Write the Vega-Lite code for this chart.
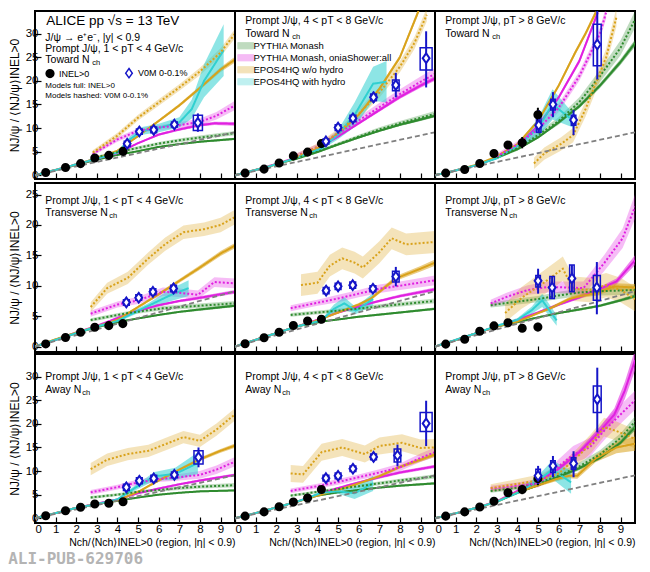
{
  "$schema": "https://vega.github.io/schema/vega-lite/v6.json",
  "padding": {"left": 8, "top": 9, "right": 6, "bottom": 0},
  "background": "white",
  "config": {
    "font": "Liberation Sans, Arial, sans-serif",
    "view": {"stroke": "black", "strokeWidth": 2},
    "axis": {"grid": false, "domain": false, "tickColor": "black", "tickSize": -6, "tickWidth": 1.2, "labelPadding": 3, "labelFontSize": 11.5, "labelColor": "black", "titleFontSize": 12, "titleFontWeight": "normal", "titleColor": "black"},
    "text": {"align": "left", "baseline": "middle", "color": "black"}
  },
  "title": {"text": "ALI-PUB-629706", "orient": "bottom", "anchor": "start", "frame": "bounds", "font": "DejaVu Sans Mono", "fontSize": 16, "fontWeight": "bold", "color": "#b4b4b4", "offset": 3},
  "spacing": 0,
  "resolve": {"legend": {"shape": "independent", "fill": "independent", "stroke": "independent"}},
  "datasets": {
    "d": [
      {"k":"m","r":"T","c":"1","m":"PM","s":"I","x":0,"y":0,"e":0.05},{"k":"m","r":"T","c":"1","m":"PM","s":"I","x":1,"y":1.1,"e":0.05},{"k":"m","r":"T","c":"1","m":"PM","s":"I","x":2,"y":2.2,"e":0.08},{"k":"m","r":"T","c":"1","m":"PM","s":"I","x":3,"y":3.3,"e":0.1},{"k":"m","r":"T","c":"1","m":"PM","s":"I","x":4,"y":4.3,"e":0.12},{"k":"m","r":"T","c":"1","m":"PM","s":"I","x":5,"y":5.1,"e":0.15},{"k":"m","r":"T","c":"1","m":"PM","s":"I","x":6,"y":6,"e":0.15},{"k":"m","r":"T","c":"1","m":"PM","s":"I","x":7,"y":6.6,"e":0.2},{"k":"m","r":"T","c":"1","m":"PM","s":"I","x":8,"y":7.1,"e":0.2},{"k":"m","r":"T","c":"1","m":"PM","s":"I","x":9.7,"y":7.7,"e":0.25},
      {"k":"m","r":"T","c":"1","m":"PO","s":"I","x":0,"y":0,"e":0.05},{"k":"m","r":"T","c":"1","m":"PO","s":"I","x":1,"y":1.1,"e":0.05},{"k":"m","r":"T","c":"1","m":"PO","s":"I","x":2,"y":2.3,"e":0.08},{"k":"m","r":"T","c":"1","m":"PO","s":"I","x":3,"y":3.5,"e":0.1},{"k":"m","r":"T","c":"1","m":"PO","s":"I","x":4,"y":4.7,"e":0.15},{"k":"m","r":"T","c":"1","m":"PO","s":"I","x":5,"y":6.8,"e":0.2},{"k":"m","r":"T","c":"1","m":"PO","s":"I","x":6,"y":8.6,"e":0.25},{"k":"m","r":"T","c":"1","m":"PO","s":"I","x":7,"y":9.7,"e":0.3},{"k":"m","r":"T","c":"1","m":"PO","s":"I","x":8,"y":10.6,"e":0.3},{"k":"m","r":"T","c":"1","m":"PO","s":"I","x":8.7,"y":11,"e":0.35},{"k":"m","r":"T","c":"1","m":"PO","s":"I","x":9.7,"y":10.9,"e":0.4},
      {"k":"m","r":"T","c":"1","m":"EW","s":"I","x":0,"y":0,"e":0.05},{"k":"m","r":"T","c":"1","m":"EW","s":"I","x":1,"y":1.1,"e":0.05},{"k":"m","r":"T","c":"1","m":"EW","s":"I","x":2,"y":2.3,"e":0.08},{"k":"m","r":"T","c":"1","m":"EW","s":"I","x":3,"y":3.6,"e":0.1},{"k":"m","r":"T","c":"1","m":"EW","s":"I","x":4,"y":5.2,"e":0.15},{"k":"m","r":"T","c":"1","m":"EW","s":"I","x":5,"y":8.3,"e":0.2},{"k":"m","r":"T","c":"1","m":"EW","s":"I","x":6,"y":11.5,"e":0.3},{"k":"m","r":"T","c":"1","m":"EW","s":"I","x":7,"y":14.8,"e":0.35},{"k":"m","r":"T","c":"1","m":"EW","s":"I","x":8,"y":18.5,"e":0.4},{"k":"m","r":"T","c":"1","m":"EW","s":"I","x":9,"y":22.4,"e":0.5},{"k":"m","r":"T","c":"1","m":"EW","s":"I","x":9.7,"y":24.5,"e":0.6},
      {"k":"m","r":"T","c":"1","m":"EH","s":"I","x":0,"y":0,"e":0.05},{"k":"m","r":"T","c":"1","m":"EH","s":"I","x":1,"y":1.1,"e":0.05},{"k":"m","r":"T","c":"1","m":"EH","s":"I","x":2,"y":2.3,"e":0.1},{"k":"m","r":"T","c":"1","m":"EH","s":"I","x":3,"y":3.5,"e":0.15},{"k":"m","r":"T","c":"1","m":"EH","s":"I","x":4,"y":4.8,"e":0.3},{"k":"m","r":"T","c":"1","m":"EH","s":"I","x":4.6,"y":7.6,"e":0.6},{"k":"m","r":"T","c":"1","m":"EH","s":"I","x":5.2,"y":9.4,"e":0.8},{"k":"m","r":"T","c":"1","m":"EH","s":"I","x":6,"y":10,"e":0.9},{"k":"m","r":"T","c":"1","m":"EH","s":"I","x":7,"y":11.2,"e":1.1},{"k":"m","r":"T","c":"1","m":"EH","s":"I","x":7.6,"y":14,"e":2},{"k":"m","r":"T","c":"1","m":"EH","s":"I","x":8.2,"y":20,"e":3.5},{"k":"m","r":"T","c":"1","m":"EH","s":"I","x":9.15,"y":26.5,"e":5.5},
      {"k":"m","r":"T","c":"1","m":"PM","s":"V","x":2.8,"y":3.6,"e":0.3},{"k":"m","r":"T","c":"1","m":"PM","s":"V","x":4,"y":4.9,"e":0.3},{"k":"m","r":"T","c":"1","m":"PM","s":"V","x":5,"y":5.8,"e":0.35},{"k":"m","r":"T","c":"1","m":"PM","s":"V","x":6,"y":6.7,"e":0.35},{"k":"m","r":"T","c":"1","m":"PM","s":"V","x":7,"y":7.4,"e":0.4},{"k":"m","r":"T","c":"1","m":"PM","s":"V","x":8,"y":8,"e":0.4},{"k":"m","r":"T","c":"1","m":"PM","s":"V","x":9.7,"y":8.9,"e":0.45},
      {"k":"m","r":"T","c":"1","m":"PO","s":"V","x":2.8,"y":4.5,"e":0.4},{"k":"m","r":"T","c":"1","m":"PO","s":"V","x":4,"y":7.6,"e":0.5},{"k":"m","r":"T","c":"1","m":"PO","s":"V","x":5,"y":9.4,"e":0.5},{"k":"m","r":"T","c":"1","m":"PO","s":"V","x":6,"y":10.1,"e":0.5},{"k":"m","r":"T","c":"1","m":"PO","s":"V","x":7,"y":10.6,"e":0.6},{"k":"m","r":"T","c":"1","m":"PO","s":"V","x":8,"y":11.3,"e":0.7},{"k":"m","r":"T","c":"1","m":"PO","s":"V","x":8.8,"y":12.6,"e":0.8},{"k":"m","r":"T","c":"1","m":"PO","s":"V","x":9.7,"y":14.8,"e":1},
      {"k":"m","r":"T","c":"1","m":"EW","s":"V","x":2.8,"y":4.8,"e":0.5},{"k":"m","r":"T","c":"1","m":"EW","s":"V","x":4,"y":8.4,"e":0.6},{"k":"m","r":"T","c":"1","m":"EW","s":"V","x":5,"y":12.2,"e":0.6},{"k":"m","r":"T","c":"1","m":"EW","s":"V","x":6,"y":15.4,"e":0.7},{"k":"m","r":"T","c":"1","m":"EW","s":"V","x":7,"y":18.6,"e":0.7},{"k":"m","r":"T","c":"1","m":"EW","s":"V","x":8,"y":22,"e":0.8},{"k":"m","r":"T","c":"1","m":"EW","s":"V","x":9,"y":26,"e":0.9},{"k":"m","r":"T","c":"1","m":"EW","s":"V","x":9.7,"y":30,"e":1},

      {"k":"m","r":"T","c":"2","m":"PM","s":"I","x":0,"y":0,"e":0.05},{"k":"m","r":"T","c":"2","m":"PM","s":"I","x":1,"y":1.1,"e":0.05},{"k":"m","r":"T","c":"2","m":"PM","s":"I","x":2,"y":2.3,"e":0.08},{"k":"m","r":"T","c":"2","m":"PM","s":"I","x":3,"y":3.5,"e":0.1},{"k":"m","r":"T","c":"2","m":"PM","s":"I","x":4,"y":4.9,"e":0.12},{"k":"m","r":"T","c":"2","m":"PM","s":"I","x":5,"y":6.5,"e":0.15},{"k":"m","r":"T","c":"2","m":"PM","s":"I","x":6,"y":8,"e":0.2},{"k":"m","r":"T","c":"2","m":"PM","s":"I","x":7,"y":9.4,"e":0.2},{"k":"m","r":"T","c":"2","m":"PM","s":"I","x":8,"y":10.7,"e":0.25},{"k":"m","r":"T","c":"2","m":"PM","s":"I","x":9,"y":11.8,"e":0.3},{"k":"m","r":"T","c":"2","m":"PM","s":"I","x":9.7,"y":12.6,"e":0.3},
      {"k":"m","r":"T","c":"2","m":"PO","s":"I","x":0,"y":0,"e":0.05},{"k":"m","r":"T","c":"2","m":"PO","s":"I","x":1,"y":1.1,"e":0.05},{"k":"m","r":"T","c":"2","m":"PO","s":"I","x":2,"y":2.4,"e":0.08},{"k":"m","r":"T","c":"2","m":"PO","s":"I","x":3,"y":3.8,"e":0.1},{"k":"m","r":"T","c":"2","m":"PO","s":"I","x":4,"y":5.6,"e":0.15},{"k":"m","r":"T","c":"2","m":"PO","s":"I","x":5,"y":8.2,"e":0.2},{"k":"m","r":"T","c":"2","m":"PO","s":"I","x":6,"y":11,"e":0.3},{"k":"m","r":"T","c":"2","m":"PO","s":"I","x":7,"y":13.8,"e":0.35},{"k":"m","r":"T","c":"2","m":"PO","s":"I","x":8,"y":16.6,"e":0.4},{"k":"m","r":"T","c":"2","m":"PO","s":"I","x":9,"y":19,"e":0.45},{"k":"m","r":"T","c":"2","m":"PO","s":"I","x":9.7,"y":20.5,"e":0.5},
      {"k":"m","r":"T","c":"2","m":"EW","s":"I","x":0,"y":0,"e":0.05},{"k":"m","r":"T","c":"2","m":"EW","s":"I","x":1,"y":1.1,"e":0.05},{"k":"m","r":"T","c":"2","m":"EW","s":"I","x":2,"y":2.3,"e":0.08},{"k":"m","r":"T","c":"2","m":"EW","s":"I","x":3,"y":3.7,"e":0.1},{"k":"m","r":"T","c":"2","m":"EW","s":"I","x":4,"y":5.7,"e":0.15},{"k":"m","r":"T","c":"2","m":"EW","s":"I","x":5,"y":8.8,"e":0.2},{"k":"m","r":"T","c":"2","m":"EW","s":"I","x":6,"y":12.8,"e":0.3},{"k":"m","r":"T","c":"2","m":"EW","s":"I","x":7,"y":18.3,"e":0.4},{"k":"m","r":"T","c":"2","m":"EW","s":"I","x":8,"y":25,"e":0.5},{"k":"m","r":"T","c":"2","m":"EW","s":"I","x":8.9,"y":34.8,"e":0.6},
      {"k":"m","r":"T","c":"2","m":"EH","s":"I","x":0,"y":0,"e":0.05},{"k":"m","r":"T","c":"2","m":"EH","s":"I","x":1,"y":1.1,"e":0.05},{"k":"m","r":"T","c":"2","m":"EH","s":"I","x":2,"y":2.3,"e":0.1},{"k":"m","r":"T","c":"2","m":"EH","s":"I","x":3,"y":3.7,"e":0.15},{"k":"m","r":"T","c":"2","m":"EH","s":"I","x":4.2,"y":5.7,"e":0.3},{"k":"m","r":"T","c":"2","m":"EH","s":"I","x":5,"y":8.6,"e":1},{"k":"m","r":"T","c":"2","m":"EH","s":"I","x":5.8,"y":12.8,"e":2.6},{"k":"m","r":"T","c":"2","m":"EH","s":"I","x":6.7,"y":19.4,"e":3.6},{"k":"m","r":"T","c":"2","m":"EH","s":"I","x":7.35,"y":19.8,"e":4.4},
      {"k":"m","r":"T","c":"2","m":"PM","s":"V","x":2.8,"y":3.4,"e":0.3},{"k":"m","r":"T","c":"2","m":"PM","s":"V","x":4,"y":5,"e":0.3},{"k":"m","r":"T","c":"2","m":"PM","s":"V","x":5,"y":6.6,"e":0.35},{"k":"m","r":"T","c":"2","m":"PM","s":"V","x":6,"y":8.2,"e":0.4},{"k":"m","r":"T","c":"2","m":"PM","s":"V","x":7,"y":9.7,"e":0.45},{"k":"m","r":"T","c":"2","m":"PM","s":"V","x":8,"y":11,"e":0.5},{"k":"m","r":"T","c":"2","m":"PM","s":"V","x":9.7,"y":13,"e":0.6},
      {"k":"m","r":"T","c":"2","m":"PO","s":"V","x":2.8,"y":3.8,"e":0.5},{"k":"m","r":"T","c":"2","m":"PO","s":"V","x":4,"y":6,"e":0.6},{"k":"m","r":"T","c":"2","m":"PO","s":"V","x":5,"y":8.8,"e":0.7},{"k":"m","r":"T","c":"2","m":"PO","s":"V","x":6,"y":11.6,"e":0.8},{"k":"m","r":"T","c":"2","m":"PO","s":"V","x":7,"y":14.4,"e":0.9},{"k":"m","r":"T","c":"2","m":"PO","s":"V","x":8,"y":17.2,"e":1},{"k":"m","r":"T","c":"2","m":"PO","s":"V","x":9,"y":19.8,"e":1.1},{"k":"m","r":"T","c":"2","m":"PO","s":"V","x":9.7,"y":21.5,"e":1.2},
      {"k":"m","r":"T","c":"2","m":"EW","s":"V","x":3,"y":4,"e":0.6},{"k":"m","r":"T","c":"2","m":"EW","s":"V","x":4,"y":6,"e":0.7},{"k":"m","r":"T","c":"2","m":"EW","s":"V","x":5,"y":9,"e":0.8},{"k":"m","r":"T","c":"2","m":"EW","s":"V","x":6,"y":13,"e":1},{"k":"m","r":"T","c":"2","m":"EW","s":"V","x":7,"y":17.5,"e":1.1},{"k":"m","r":"T","c":"2","m":"EW","s":"V","x":8,"y":23,"e":1.2},{"k":"m","r":"T","c":"2","m":"EW","s":"V","x":8.7,"y":28,"e":1.3},{"k":"m","r":"T","c":"2","m":"EW","s":"V","x":9.3,"y":34,"e":1.4},

      {"k":"m","r":"T","c":"3","m":"PM","s":"I","x":0,"y":0,"e":0.05},{"k":"m","r":"T","c":"3","m":"PM","s":"I","x":1,"y":1,"e":0.05},{"k":"m","r":"T","c":"3","m":"PM","s":"I","x":2,"y":2.1,"e":0.08},{"k":"m","r":"T","c":"3","m":"PM","s":"I","x":3,"y":3.7,"e":0.1},{"k":"m","r":"T","c":"3","m":"PM","s":"I","x":4,"y":5.5,"e":0.15},{"k":"m","r":"T","c":"3","m":"PM","s":"I","x":5,"y":8,"e":0.2},{"k":"m","r":"T","c":"3","m":"PM","s":"I","x":6,"y":11.2,"e":0.3},{"k":"m","r":"T","c":"3","m":"PM","s":"I","x":7,"y":14.6,"e":0.4},{"k":"m","r":"T","c":"3","m":"PM","s":"I","x":8,"y":19,"e":0.5},{"k":"m","r":"T","c":"3","m":"PM","s":"I","x":9,"y":24,"e":0.6},{"k":"m","r":"T","c":"3","m":"PM","s":"I","x":9.7,"y":28,"e":0.7},
      {"k":"m","r":"T","c":"3","m":"PO","s":"I","x":0,"y":0,"e":0.05},{"k":"m","r":"T","c":"3","m":"PO","s":"I","x":1,"y":1,"e":0.05},{"k":"m","r":"T","c":"3","m":"PO","s":"I","x":2,"y":2.1,"e":0.08},{"k":"m","r":"T","c":"3","m":"PO","s":"I","x":3,"y":3.8,"e":0.1},{"k":"m","r":"T","c":"3","m":"PO","s":"I","x":4,"y":6.2,"e":0.2},{"k":"m","r":"T","c":"3","m":"PO","s":"I","x":5,"y":10.5,"e":0.3},{"k":"m","r":"T","c":"3","m":"PO","s":"I","x":6,"y":16.5,"e":0.4},{"k":"m","r":"T","c":"3","m":"PO","s":"I","x":7,"y":24.2,"e":0.5},{"k":"m","r":"T","c":"3","m":"PO","s":"I","x":7.9,"y":34.5,"e":0.6},
      {"k":"m","r":"T","c":"3","m":"EW","s":"I","x":0,"y":0,"e":0.05},{"k":"m","r":"T","c":"3","m":"EW","s":"I","x":1,"y":1,"e":0.05},{"k":"m","r":"T","c":"3","m":"EW","s":"I","x":2,"y":2.2,"e":0.08},{"k":"m","r":"T","c":"3","m":"EW","s":"I","x":3,"y":4,"e":0.1},{"k":"m","r":"T","c":"3","m":"EW","s":"I","x":4,"y":6.6,"e":0.2},{"k":"m","r":"T","c":"3","m":"EW","s":"I","x":5,"y":11.5,"e":0.3},{"k":"m","r":"T","c":"3","m":"EW","s":"I","x":6,"y":19,"e":0.4},{"k":"m","r":"T","c":"3","m":"EW","s":"I","x":6.8,"y":26,"e":0.5},{"k":"m","r":"T","c":"3","m":"EW","s":"I","x":7.3,"y":30,"e":0.5},{"k":"m","r":"T","c":"3","m":"EW","s":"I","x":7.8,"y":34.5,"e":0.6},
      {"k":"m","r":"T","c":"3","m":"EH","s":"I","x":0,"y":0,"e":0.05},{"k":"m","r":"T","c":"3","m":"EH","s":"I","x":1,"y":1,"e":0.05},{"k":"m","r":"T","c":"3","m":"EH","s":"I","x":2,"y":2.1,"e":0.1},{"k":"m","r":"T","c":"3","m":"EH","s":"I","x":3,"y":3.6,"e":0.2},{"k":"m","r":"T","c":"3","m":"EH","s":"I","x":4,"y":6.2,"e":0.4},{"k":"m","r":"T","c":"3","m":"EH","s":"I","x":5,"y":10,"e":2},{"k":"m","r":"T","c":"3","m":"EH","s":"I","x":5.7,"y":15,"e":3.2},{"k":"m","r":"T","c":"3","m":"EH","s":"I","x":6.7,"y":11.6,"e":1.5},
      {"k":"m","r":"T","c":"3","m":"PM","s":"V","x":3,"y":3.8,"e":0.4},{"k":"m","r":"T","c":"3","m":"PM","s":"V","x":4,"y":5.7,"e":0.5},{"k":"m","r":"T","c":"3","m":"PM","s":"V","x":5,"y":8.5,"e":0.6},{"k":"m","r":"T","c":"3","m":"PM","s":"V","x":6,"y":11.5,"e":0.8},{"k":"m","r":"T","c":"3","m":"PM","s":"V","x":7,"y":15.5,"e":1},{"k":"m","r":"T","c":"3","m":"PM","s":"V","x":8,"y":21,"e":1.3},{"k":"m","r":"T","c":"3","m":"PM","s":"V","x":9,"y":27,"e":1.6},{"k":"m","r":"T","c":"3","m":"PM","s":"V","x":9.7,"y":33,"e":1.8},
      {"k":"m","r":"T","c":"3","m":"PO","s":"V","x":3,"y":4,"e":0.6},{"k":"m","r":"T","c":"3","m":"PO","s":"V","x":4,"y":6.5,"e":0.7},{"k":"m","r":"T","c":"3","m":"PO","s":"V","x":5,"y":9.8,"e":0.8},{"k":"m","r":"T","c":"3","m":"PO","s":"V","x":6,"y":14.3,"e":0.9},{"k":"m","r":"T","c":"3","m":"PO","s":"V","x":7,"y":21,"e":1},{"k":"m","r":"T","c":"3","m":"PO","s":"V","x":8,"y":30,"e":1.2},{"k":"m","r":"T","c":"3","m":"PO","s":"V","x":8.3,"y":34.5,"e":1.3},
      {"k":"m","r":"T","c":"3","m":"EW","s":"V","x":4.8,"y":2.5,"e":1.2},{"k":"m","r":"T","c":"3","m":"EW","s":"V","x":5.3,"y":4.6,"e":1.3},{"k":"m","r":"T","c":"3","m":"EW","s":"V","x":6.1,"y":6.6,"e":1.4},{"k":"m","r":"T","c":"3","m":"EW","s":"V","x":6.7,"y":8.5,"e":1.5},{"k":"m","r":"T","c":"3","m":"EW","s":"V","x":7.3,"y":14,"e":1.6},{"k":"m","r":"T","c":"3","m":"EW","s":"V","x":7.8,"y":19.5,"e":1.7},{"k":"m","r":"T","c":"3","m":"EW","s":"V","x":8.3,"y":25,"e":1.8},{"k":"m","r":"T","c":"3","m":"EW","s":"V","x":8.8,"y":33.5,"e":2},

      {"k":"m","r":"S","c":"1","m":"PM","s":"I","x":0,"y":0,"e":0.05},{"k":"m","r":"S","c":"1","m":"PM","s":"I","x":1,"y":1.1,"e":0.05},{"k":"m","r":"S","c":"1","m":"PM","s":"I","x":2,"y":2.2,"e":0.08},{"k":"m","r":"S","c":"1","m":"PM","s":"I","x":3,"y":3.2,"e":0.1},{"k":"m","r":"S","c":"1","m":"PM","s":"I","x":4,"y":4,"e":0.1},{"k":"m","r":"S","c":"1","m":"PM","s":"I","x":4.55,"y":4.36,"e":0.12},{"k":"m","r":"S","c":"1","m":"PM","s":"I","x":6,"y":5.2,"e":0.15},{"k":"m","r":"S","c":"1","m":"PM","s":"I","x":7,"y":5.7,"e":0.15},{"k":"m","r":"S","c":"1","m":"PM","s":"I","x":8,"y":6.1,"e":0.2},{"k":"m","r":"S","c":"1","m":"PM","s":"I","x":9.7,"y":6.7,"e":0.2},
      {"k":"m","r":"S","c":"1","m":"PO","s":"I","x":0,"y":0,"e":0.05},{"k":"m","r":"S","c":"1","m":"PO","s":"I","x":1,"y":1.1,"e":0.05},{"k":"m","r":"S","c":"1","m":"PO","s":"I","x":2,"y":2.3,"e":0.08},{"k":"m","r":"S","c":"1","m":"PO","s":"I","x":3,"y":3.4,"e":0.1},{"k":"m","r":"S","c":"1","m":"PO","s":"I","x":4,"y":4.7,"e":0.15},{"k":"m","r":"S","c":"1","m":"PO","s":"I","x":5,"y":5.9,"e":0.15},{"k":"m","r":"S","c":"1","m":"PO","s":"I","x":6,"y":6.8,"e":0.2},{"k":"m","r":"S","c":"1","m":"PO","s":"I","x":7,"y":7.5,"e":0.2},{"k":"m","r":"S","c":"1","m":"PO","s":"I","x":7.8,"y":7.9,"e":0.25},{"k":"m","r":"S","c":"1","m":"PO","s":"I","x":9.7,"y":9,"e":0.3},
      {"k":"m","r":"S","c":"1","m":"EW","s":"I","x":0,"y":0,"e":0.05},{"k":"m","r":"S","c":"1","m":"EW","s":"I","x":1,"y":1.2,"e":0.05},{"k":"m","r":"S","c":"1","m":"EW","s":"I","x":2,"y":2.3,"e":0.08},{"k":"m","r":"S","c":"1","m":"EW","s":"I","x":3,"y":3.3,"e":0.1},{"k":"m","r":"S","c":"1","m":"EW","s":"I","x":4,"y":4.4,"e":0.15},{"k":"m","r":"S","c":"1","m":"EW","s":"I","x":5,"y":6.5,"e":0.2},{"k":"m","r":"S","c":"1","m":"EW","s":"I","x":6,"y":8.6,"e":0.25},{"k":"m","r":"S","c":"1","m":"EW","s":"I","x":7,"y":10.8,"e":0.3},{"k":"m","r":"S","c":"1","m":"EW","s":"I","x":8,"y":13,"e":0.35},{"k":"m","r":"S","c":"1","m":"EW","s":"I","x":9,"y":15.3,"e":0.4},{"k":"m","r":"S","c":"1","m":"EW","s":"I","x":9.7,"y":16.6,"e":0.45},
      {"k":"m","r":"S","c":"1","m":"EH","s":"I","x":0,"y":0,"e":0.05},{"k":"m","r":"S","c":"1","m":"EH","s":"I","x":1,"y":1.1,"e":0.05},{"k":"m","r":"S","c":"1","m":"EH","s":"I","x":2,"y":2.2,"e":0.08},{"k":"m","r":"S","c":"1","m":"EH","s":"I","x":3,"y":3.3,"e":0.1},{"k":"m","r":"S","c":"1","m":"EH","s":"I","x":4,"y":4.2,"e":0.2},{"k":"m","r":"S","c":"1","m":"EH","s":"I","x":5,"y":5.9,"e":0.4},{"k":"m","r":"S","c":"1","m":"EH","s":"I","x":5.5,"y":6.7,"e":0.4},{"k":"m","r":"S","c":"1","m":"EH","s":"I","x":6.6,"y":8.5,"e":1},{"k":"m","r":"S","c":"1","m":"EH","s":"I","x":7.45,"y":9.6,"e":1.3},
      {"k":"m","r":"S","c":"1","m":"PM","s":"V","x":2.7,"y":4.36,"e":0.3},{"k":"m","r":"S","c":"1","m":"PM","s":"V","x":4.5,"y":5.5,"e":0.3},{"k":"m","r":"S","c":"1","m":"PM","s":"V","x":6.2,"y":6.3,"e":0.35},{"k":"m","r":"S","c":"1","m":"PM","s":"V","x":9.7,"y":7.1,"e":0.4},
      {"k":"m","r":"S","c":"1","m":"PO","s":"V","x":2.7,"y":5.4,"e":0.5},{"k":"m","r":"S","c":"1","m":"PO","s":"V","x":4,"y":6.9,"e":0.5},{"k":"m","r":"S","c":"1","m":"PO","s":"V","x":5,"y":7.6,"e":0.6},{"k":"m","r":"S","c":"1","m":"PO","s":"V","x":6.2,"y":9,"e":0.7},{"k":"m","r":"S","c":"1","m":"PO","s":"V","x":7,"y":8.85,"e":0.7},{"k":"m","r":"S","c":"1","m":"PO","s":"V","x":7.9,"y":8.5,"e":0.7},{"k":"m","r":"S","c":"1","m":"PO","s":"V","x":8.7,"y":10.6,"e":0.8},{"k":"m","r":"S","c":"1","m":"PO","s":"V","x":9.7,"y":10.4,"e":0.8},
      {"k":"m","r":"S","c":"1","m":"EW","s":"V","x":2.7,"y":6.5,"e":0.8},{"k":"m","r":"S","c":"1","m":"EW","s":"V","x":3.5,"y":9.6,"e":0.9},{"k":"m","r":"S","c":"1","m":"EW","s":"V","x":4.5,"y":11.3,"e":1},{"k":"m","r":"S","c":"1","m":"EW","s":"V","x":5.5,"y":14.5,"e":1},{"k":"m","r":"S","c":"1","m":"EW","s":"V","x":6.3,"y":16.8,"e":1.1},{"k":"m","r":"S","c":"1","m":"EW","s":"V","x":7.2,"y":18.8,"e":1.1},{"k":"m","r":"S","c":"1","m":"EW","s":"V","x":8.2,"y":19.3,"e":1.1},{"k":"m","r":"S","c":"1","m":"EW","s":"V","x":9,"y":20,"e":1.2},{"k":"m","r":"S","c":"1","m":"EW","s":"V","x":9.7,"y":21.3,"e":1.2},

      {"k":"m","r":"S","c":"2","m":"PM","s":"I","x":0,"y":0,"e":0.05},{"k":"m","r":"S","c":"2","m":"PM","s":"I","x":1,"y":1.1,"e":0.05},{"k":"m","r":"S","c":"2","m":"PM","s":"I","x":2,"y":2.2,"e":0.08},{"k":"m","r":"S","c":"2","m":"PM","s":"I","x":3,"y":3.3,"e":0.1},{"k":"m","r":"S","c":"2","m":"PM","s":"I","x":4.2,"y":4.1,"e":0.1},{"k":"m","r":"S","c":"2","m":"PM","s":"I","x":6,"y":4.9,"e":0.15},{"k":"m","r":"S","c":"2","m":"PM","s":"I","x":8,"y":5.6,"e":0.15},{"k":"m","r":"S","c":"2","m":"PM","s":"I","x":9.7,"y":6.2,"e":0.2},
      {"k":"m","r":"S","c":"2","m":"PO","s":"I","x":0,"y":0,"e":0.05},{"k":"m","r":"S","c":"2","m":"PO","s":"I","x":1,"y":1.1,"e":0.05},{"k":"m","r":"S","c":"2","m":"PO","s":"I","x":2,"y":2.2,"e":0.08},{"k":"m","r":"S","c":"2","m":"PO","s":"I","x":3,"y":3.3,"e":0.1},{"k":"m","r":"S","c":"2","m":"PO","s":"I","x":4,"y":4.4,"e":0.12},{"k":"m","r":"S","c":"2","m":"PO","s":"I","x":5,"y":5.6,"e":0.15},{"k":"m","r":"S","c":"2","m":"PO","s":"I","x":6,"y":6.6,"e":0.2},{"k":"m","r":"S","c":"2","m":"PO","s":"I","x":7,"y":7.5,"e":0.2},{"k":"m","r":"S","c":"2","m":"PO","s":"I","x":8,"y":8.3,"e":0.25},{"k":"m","r":"S","c":"2","m":"PO","s":"I","x":9.7,"y":9.4,"e":0.3},
      {"k":"m","r":"S","c":"2","m":"EW","s":"I","x":0,"y":0,"e":0.05},{"k":"m","r":"S","c":"2","m":"EW","s":"I","x":1,"y":1.1,"e":0.05},{"k":"m","r":"S","c":"2","m":"EW","s":"I","x":2,"y":2.2,"e":0.08},{"k":"m","r":"S","c":"2","m":"EW","s":"I","x":3,"y":3.3,"e":0.1},{"k":"m","r":"S","c":"2","m":"EW","s":"I","x":4,"y":4.3,"e":0.15},{"k":"m","r":"S","c":"2","m":"EW","s":"I","x":5,"y":5.6,"e":0.2},{"k":"m","r":"S","c":"2","m":"EW","s":"I","x":6,"y":6.9,"e":0.25},{"k":"m","r":"S","c":"2","m":"EW","s":"I","x":6.6,"y":7.9,"e":0.3},{"k":"m","r":"S","c":"2","m":"EW","s":"I","x":7.8,"y":11.2,"e":0.4},{"k":"m","r":"S","c":"2","m":"EW","s":"I","x":9,"y":12.8,"e":0.45},{"k":"m","r":"S","c":"2","m":"EW","s":"I","x":9.7,"y":13.8,"e":0.5},
      {"k":"m","r":"S","c":"2","m":"EH","s":"I","x":0,"y":0,"e":0.05},{"k":"m","r":"S","c":"2","m":"EH","s":"I","x":1,"y":1.1,"e":0.05},{"k":"m","r":"S","c":"2","m":"EH","s":"I","x":2,"y":2.2,"e":0.08},{"k":"m","r":"S","c":"2","m":"EH","s":"I","x":3,"y":3.3,"e":0.1},{"k":"m","r":"S","c":"2","m":"EH","s":"I","x":4.2,"y":4.3,"e":0.2},{"k":"m","r":"S","c":"2","m":"EH","s":"I","x":4.8,"y":6.2,"e":0.7},{"k":"m","r":"S","c":"2","m":"EH","s":"I","x":5.3,"y":7.1,"e":1},{"k":"m","r":"S","c":"2","m":"EH","s":"I","x":5.85,"y":5.9,"e":0.6},{"k":"m","r":"S","c":"2","m":"EH","s":"I","x":6.7,"y":7.8,"e":1},
      {"k":"m","r":"S","c":"2","m":"PM","s":"V","x":2.7,"y":5.2,"e":0.3},{"k":"m","r":"S","c":"2","m":"PM","s":"V","x":5,"y":5.9,"e":0.3},{"k":"m","r":"S","c":"2","m":"PM","s":"V","x":7,"y":6.6,"e":0.35},{"k":"m","r":"S","c":"2","m":"PM","s":"V","x":9.7,"y":7.5,"e":0.4},
      {"k":"m","r":"S","c":"2","m":"PO","s":"V","x":2.7,"y":6.3,"e":0.5},{"k":"m","r":"S","c":"2","m":"PO","s":"V","x":4,"y":7.2,"e":0.5},{"k":"m","r":"S","c":"2","m":"PO","s":"V","x":5,"y":7.9,"e":0.6},{"k":"m","r":"S","c":"2","m":"PO","s":"V","x":6,"y":8.7,"e":0.6},{"k":"m","r":"S","c":"2","m":"PO","s":"V","x":7,"y":9.5,"e":0.7},{"k":"m","r":"S","c":"2","m":"PO","s":"V","x":8,"y":10,"e":0.7},{"k":"m","r":"S","c":"2","m":"PO","s":"V","x":9.7,"y":10.9,"e":0.8},
      {"k":"m","r":"S","c":"2","m":"EW","s":"V","x":3.2,"y":10.1,"e":1.8},{"k":"m","r":"S","c":"2","m":"EW","s":"V","x":4,"y":10.5,"e":1.8},{"k":"m","r":"S","c":"2","m":"EW","s":"V","x":4.6,"y":13.3,"e":1.8},{"k":"m","r":"S","c":"2","m":"EW","s":"V","x":5.2,"y":14.5,"e":1.8},{"k":"m","r":"S","c":"2","m":"EW","s":"V","x":5.8,"y":13.8,"e":1.8},{"k":"m","r":"S","c":"2","m":"EW","s":"V","x":6.2,"y":13,"e":1.8},{"k":"m","r":"S","c":"2","m":"EW","s":"V","x":7,"y":15.5,"e":1.8},{"k":"m","r":"S","c":"2","m":"EW","s":"V","x":7.6,"y":17.8,"e":1.8},{"k":"m","r":"S","c":"2","m":"EW","s":"V","x":8.3,"y":16.8,"e":1.8},{"k":"m","r":"S","c":"2","m":"EW","s":"V","x":9.7,"y":17.2,"e":1.8},

      {"k":"m","r":"S","c":"3","m":"PM","s":"I","x":0,"y":0,"e":0.05},{"k":"m","r":"S","c":"3","m":"PM","s":"I","x":1,"y":1.05,"e":0.05},{"k":"m","r":"S","c":"3","m":"PM","s":"I","x":2,"y":2.2,"e":0.08},{"k":"m","r":"S","c":"3","m":"PM","s":"I","x":3,"y":3.3,"e":0.1},{"k":"m","r":"S","c":"3","m":"PM","s":"I","x":4,"y":4,"e":0.12},{"k":"m","r":"S","c":"3","m":"PM","s":"I","x":5,"y":4.8,"e":0.15},{"k":"m","r":"S","c":"3","m":"PM","s":"I","x":6,"y":5.5,"e":0.15},{"k":"m","r":"S","c":"3","m":"PM","s":"I","x":7,"y":6.1,"e":0.2},{"k":"m","r":"S","c":"3","m":"PM","s":"I","x":8,"y":6.7,"e":0.2},{"k":"m","r":"S","c":"3","m":"PM","s":"I","x":9,"y":7.6,"e":0.25},{"k":"m","r":"S","c":"3","m":"PM","s":"I","x":9.7,"y":8.3,"e":0.3},
      {"k":"m","r":"S","c":"3","m":"PO","s":"I","x":0,"y":0,"e":0.05},{"k":"m","r":"S","c":"3","m":"PO","s":"I","x":1,"y":1.05,"e":0.05},{"k":"m","r":"S","c":"3","m":"PO","s":"I","x":2,"y":2.2,"e":0.08},{"k":"m","r":"S","c":"3","m":"PO","s":"I","x":3,"y":3.3,"e":0.1},{"k":"m","r":"S","c":"3","m":"PO","s":"I","x":4,"y":4.4,"e":0.15},{"k":"m","r":"S","c":"3","m":"PO","s":"I","x":5,"y":5.6,"e":0.2},{"k":"m","r":"S","c":"3","m":"PO","s":"I","x":6,"y":6.9,"e":0.25},{"k":"m","r":"S","c":"3","m":"PO","s":"I","x":7,"y":8.1,"e":0.3},{"k":"m","r":"S","c":"3","m":"PO","s":"I","x":8,"y":9.5,"e":0.35},{"k":"m","r":"S","c":"3","m":"PO","s":"I","x":8.8,"y":10.7,"e":0.5},{"k":"m","r":"S","c":"3","m":"PO","s":"I","x":9.7,"y":14.2,"e":0.8},
      {"k":"m","r":"S","c":"3","m":"EW","s":"I","x":0,"y":0,"e":0.05},{"k":"m","r":"S","c":"3","m":"EW","s":"I","x":1,"y":1.05,"e":0.05},{"k":"m","r":"S","c":"3","m":"EW","s":"I","x":2,"y":2.2,"e":0.08},{"k":"m","r":"S","c":"3","m":"EW","s":"I","x":3,"y":3.3,"e":0.1},{"k":"m","r":"S","c":"3","m":"EW","s":"I","x":4,"y":4.1,"e":0.15},{"k":"m","r":"S","c":"3","m":"EW","s":"I","x":5,"y":5.5,"e":0.2},{"k":"m","r":"S","c":"3","m":"EW","s":"I","x":5.6,"y":6.3,"e":0.25},{"k":"m","r":"S","c":"3","m":"EW","s":"I","x":6.5,"y":7.8,"e":0.3},{"k":"m","r":"S","c":"3","m":"EW","s":"I","x":7.2,"y":8.4,"e":0.35},{"k":"m","r":"S","c":"3","m":"EW","s":"I","x":7.85,"y":8.8,"e":0.4},{"k":"m","r":"S","c":"3","m":"EW","s":"I","x":8.7,"y":9.9,"e":0.5},{"k":"m","r":"S","c":"3","m":"EW","s":"I","x":9.7,"y":9.7,"e":0.6},
      {"k":"m","r":"S","c":"3","m":"EH","s":"I","x":0,"y":0,"e":0.05},{"k":"m","r":"S","c":"3","m":"EH","s":"I","x":2,"y":2.2,"e":0.1},{"k":"m","r":"S","c":"3","m":"EH","s":"I","x":3,"y":3.4,"e":0.15},{"k":"m","r":"S","c":"3","m":"EH","s":"I","x":4,"y":4.4,"e":0.3},{"k":"m","r":"S","c":"3","m":"EH","s":"I","x":4.7,"y":6,"e":0.6},{"k":"m","r":"S","c":"3","m":"EH","s":"I","x":5.2,"y":7.6,"e":1.1},{"k":"m","r":"S","c":"3","m":"EH","s":"I","x":5.9,"y":4.3,"e":0.9},
      {"k":"m","r":"S","c":"3","m":"PM","s":"V","x":2.7,"y":6.8,"e":0.4},{"k":"m","r":"S","c":"3","m":"PM","s":"V","x":4,"y":7.4,"e":0.5},{"k":"m","r":"S","c":"3","m":"PM","s":"V","x":5,"y":7.8,"e":0.5},{"k":"m","r":"S","c":"3","m":"PM","s":"V","x":6,"y":8.4,"e":0.6},{"k":"m","r":"S","c":"3","m":"PM","s":"V","x":7,"y":8.9,"e":0.6},{"k":"m","r":"S","c":"3","m":"PM","s":"V","x":8,"y":9.1,"e":0.7},{"k":"m","r":"S","c":"3","m":"PM","s":"V","x":9.7,"y":9.3,"e":0.8},
      {"k":"m","r":"S","c":"3","m":"PO","s":"V","x":2.7,"y":7.1,"e":0.6},{"k":"m","r":"S","c":"3","m":"PO","s":"V","x":3.5,"y":8.2,"e":0.7},{"k":"m","r":"S","c":"3","m":"PO","s":"V","x":4.5,"y":9.3,"e":0.8},{"k":"m","r":"S","c":"3","m":"PO","s":"V","x":5.5,"y":9.8,"e":0.9},{"k":"m","r":"S","c":"3","m":"PO","s":"V","x":6.5,"y":9.7,"e":1},{"k":"m","r":"S","c":"3","m":"PO","s":"V","x":7.2,"y":9.6,"e":1.1},{"k":"m","r":"S","c":"3","m":"PO","s":"V","x":8.2,"y":13.7,"e":1.3},{"k":"m","r":"S","c":"3","m":"PO","s":"V","x":9.1,"y":17.8,"e":1.6},{"k":"m","r":"S","c":"3","m":"PO","s":"V","x":9.7,"y":23,"e":2},
      {"k":"m","r":"S","c":"3","m":"EW","s":"V","x":3.4,"y":5.5,"e":1.5},{"k":"m","r":"S","c":"3","m":"EW","s":"V","x":4.2,"y":8,"e":1.8},{"k":"m","r":"S","c":"3","m":"EW","s":"V","x":5.2,"y":10.3,"e":2},{"k":"m","r":"S","c":"3","m":"EW","s":"V","x":6.2,"y":12.8,"e":2},{"k":"m","r":"S","c":"3","m":"EW","s":"V","x":6.7,"y":9.5,"e":2},{"k":"m","r":"S","c":"3","m":"EW","s":"V","x":7.5,"y":9.3,"e":2},{"k":"m","r":"S","c":"3","m":"EW","s":"V","x":8.3,"y":10.1,"e":2},{"k":"m","r":"S","c":"3","m":"EW","s":"V","x":9,"y":9.3,"e":2},{"k":"m","r":"S","c":"3","m":"EW","s":"V","x":9.7,"y":7.8,"e":2},

      {"k":"m","r":"A","c":"1","m":"PM","s":"I","x":0,"y":0,"e":0.05},{"k":"m","r":"A","c":"1","m":"PM","s":"I","x":1,"y":1.1,"e":0.05},{"k":"m","r":"A","c":"1","m":"PM","s":"I","x":2,"y":2.2,"e":0.08},{"k":"m","r":"A","c":"1","m":"PM","s":"I","x":3,"y":3,"e":0.1},{"k":"m","r":"A","c":"1","m":"PM","s":"I","x":4,"y":3.7,"e":0.1},{"k":"m","r":"A","c":"1","m":"PM","s":"I","x":5,"y":4.4,"e":0.12},{"k":"m","r":"A","c":"1","m":"PM","s":"I","x":6,"y":5,"e":0.15},{"k":"m","r":"A","c":"1","m":"PM","s":"I","x":7,"y":5.4,"e":0.15},{"k":"m","r":"A","c":"1","m":"PM","s":"I","x":8,"y":5.7,"e":0.2},{"k":"m","r":"A","c":"1","m":"PM","s":"I","x":9.7,"y":5.9,"e":0.2},
      {"k":"m","r":"A","c":"1","m":"PO","s":"I","x":0,"y":0,"e":0.05},{"k":"m","r":"A","c":"1","m":"PO","s":"I","x":1,"y":1.1,"e":0.05},{"k":"m","r":"A","c":"1","m":"PO","s":"I","x":2,"y":2.2,"e":0.08},{"k":"m","r":"A","c":"1","m":"PO","s":"I","x":3,"y":3.1,"e":0.1},{"k":"m","r":"A","c":"1","m":"PO","s":"I","x":4,"y":4,"e":0.12},{"k":"m","r":"A","c":"1","m":"PO","s":"I","x":5,"y":5.3,"e":0.15},{"k":"m","r":"A","c":"1","m":"PO","s":"I","x":6,"y":6.3,"e":0.2},{"k":"m","r":"A","c":"1","m":"PO","s":"I","x":7,"y":7.2,"e":0.2},{"k":"m","r":"A","c":"1","m":"PO","s":"I","x":8,"y":8,"e":0.25},{"k":"m","r":"A","c":"1","m":"PO","s":"I","x":9.7,"y":9.2,"e":0.3},
      {"k":"m","r":"A","c":"1","m":"EW","s":"I","x":0,"y":0,"e":0.05},{"k":"m","r":"A","c":"1","m":"EW","s":"I","x":1,"y":1.1,"e":0.05},{"k":"m","r":"A","c":"1","m":"EW","s":"I","x":2,"y":2.2,"e":0.08},{"k":"m","r":"A","c":"1","m":"EW","s":"I","x":3,"y":3,"e":0.1},{"k":"m","r":"A","c":"1","m":"EW","s":"I","x":4,"y":3.8,"e":0.15},{"k":"m","r":"A","c":"1","m":"EW","s":"I","x":5,"y":5.6,"e":0.2},{"k":"m","r":"A","c":"1","m":"EW","s":"I","x":6,"y":8,"e":0.25},{"k":"m","r":"A","c":"1","m":"EW","s":"I","x":7,"y":10.3,"e":0.3},{"k":"m","r":"A","c":"1","m":"EW","s":"I","x":8,"y":12.5,"e":0.35},{"k":"m","r":"A","c":"1","m":"EW","s":"I","x":9,"y":14.3,"e":0.4},{"k":"m","r":"A","c":"1","m":"EW","s":"I","x":9.7,"y":15.4,"e":0.45},
      {"k":"m","r":"A","c":"1","m":"EH","s":"I","x":0,"y":0,"e":0.05},{"k":"m","r":"A","c":"1","m":"EH","s":"I","x":1,"y":1.1,"e":0.05},{"k":"m","r":"A","c":"1","m":"EH","s":"I","x":2,"y":2.2,"e":0.08},{"k":"m","r":"A","c":"1","m":"EH","s":"I","x":3,"y":3,"e":0.1},{"k":"m","r":"A","c":"1","m":"EH","s":"I","x":4,"y":4,"e":0.2},{"k":"m","r":"A","c":"1","m":"EH","s":"I","x":4.8,"y":6.3,"e":0.5},{"k":"m","r":"A","c":"1","m":"EH","s":"I","x":5.8,"y":8.9,"e":0.9},{"k":"m","r":"A","c":"1","m":"EH","s":"I","x":6.8,"y":9.4,"e":1.3},{"k":"m","r":"A","c":"1","m":"EH","s":"I","x":7.9,"y":11.7,"e":2.3},
      {"k":"m","r":"A","c":"1","m":"PM","s":"V","x":2.7,"y":4.4,"e":0.3},{"k":"m","r":"A","c":"1","m":"PM","s":"V","x":4,"y":5,"e":0.3},{"k":"m","r":"A","c":"1","m":"PM","s":"V","x":5,"y":5.6,"e":0.35},{"k":"m","r":"A","c":"1","m":"PM","s":"V","x":6,"y":6,"e":0.35},{"k":"m","r":"A","c":"1","m":"PM","s":"V","x":7,"y":6.4,"e":0.4},{"k":"m","r":"A","c":"1","m":"PM","s":"V","x":8,"y":6.7,"e":0.4},{"k":"m","r":"A","c":"1","m":"PM","s":"V","x":9.7,"y":7,"e":0.45},
      {"k":"m","r":"A","c":"1","m":"PO","s":"V","x":2.7,"y":5.5,"e":0.5},{"k":"m","r":"A","c":"1","m":"PO","s":"V","x":4,"y":6.6,"e":0.5},{"k":"m","r":"A","c":"1","m":"PO","s":"V","x":5,"y":7.6,"e":0.6},{"k":"m","r":"A","c":"1","m":"PO","s":"V","x":6,"y":8.3,"e":0.6},{"k":"m","r":"A","c":"1","m":"PO","s":"V","x":7,"y":8.7,"e":0.7},{"k":"m","r":"A","c":"1","m":"PO","s":"V","x":8,"y":9.2,"e":0.8},{"k":"m","r":"A","c":"1","m":"PO","s":"V","x":8.8,"y":10.3,"e":0.9},{"k":"m","r":"A","c":"1","m":"PO","s":"V","x":9.7,"y":12,"e":1},
      {"k":"m","r":"A","c":"1","m":"EW","s":"V","x":2.7,"y":10.4,"e":1.3},{"k":"m","r":"A","c":"1","m":"EW","s":"V","x":3.5,"y":12.4,"e":1.3},{"k":"m","r":"A","c":"1","m":"EW","s":"V","x":4.5,"y":13.6,"e":1.3},{"k":"m","r":"A","c":"1","m":"EW","s":"V","x":5.5,"y":14.3,"e":1.3},{"k":"m","r":"A","c":"1","m":"EW","s":"V","x":6.5,"y":16,"e":1.3},{"k":"m","r":"A","c":"1","m":"EW","s":"V","x":7.2,"y":17.2,"e":1.3},{"k":"m","r":"A","c":"1","m":"EW","s":"V","x":8,"y":16.4,"e":1.3},{"k":"m","r":"A","c":"1","m":"EW","s":"V","x":8.8,"y":18.8,"e":1.3},{"k":"m","r":"A","c":"1","m":"EW","s":"V","x":9.7,"y":22,"e":1.3},

      {"k":"m","r":"A","c":"2","m":"PM","s":"I","x":0,"y":0,"e":0.05},{"k":"m","r":"A","c":"2","m":"PM","s":"I","x":1,"y":1.1,"e":0.05},{"k":"m","r":"A","c":"2","m":"PM","s":"I","x":2,"y":2.3,"e":0.08},{"k":"m","r":"A","c":"2","m":"PM","s":"I","x":3,"y":3.5,"e":0.1},{"k":"m","r":"A","c":"2","m":"PM","s":"I","x":4,"y":4.8,"e":0.12},{"k":"m","r":"A","c":"2","m":"PM","s":"I","x":5,"y":5.5,"e":0.15},{"k":"m","r":"A","c":"2","m":"PM","s":"I","x":6,"y":6,"e":0.15},{"k":"m","r":"A","c":"2","m":"PM","s":"I","x":7,"y":6.5,"e":0.2},{"k":"m","r":"A","c":"2","m":"PM","s":"I","x":8,"y":6.9,"e":0.2},{"k":"m","r":"A","c":"2","m":"PM","s":"I","x":9.7,"y":7.4,"e":0.25},
      {"k":"m","r":"A","c":"2","m":"PO","s":"I","x":0,"y":0,"e":0.05},{"k":"m","r":"A","c":"2","m":"PO","s":"I","x":1,"y":1.1,"e":0.05},{"k":"m","r":"A","c":"2","m":"PO","s":"I","x":2,"y":2.3,"e":0.08},{"k":"m","r":"A","c":"2","m":"PO","s":"I","x":3,"y":3.5,"e":0.1},{"k":"m","r":"A","c":"2","m":"PO","s":"I","x":4,"y":5,"e":0.15},{"k":"m","r":"A","c":"2","m":"PO","s":"I","x":5,"y":6.4,"e":0.2},{"k":"m","r":"A","c":"2","m":"PO","s":"I","x":6,"y":7.6,"e":0.25},{"k":"m","r":"A","c":"2","m":"PO","s":"I","x":7,"y":8.7,"e":0.3},{"k":"m","r":"A","c":"2","m":"PO","s":"I","x":8,"y":9.7,"e":0.3},{"k":"m","r":"A","c":"2","m":"PO","s":"I","x":9.7,"y":11,"e":0.35},
      {"k":"m","r":"A","c":"2","m":"EW","s":"I","x":0,"y":0,"e":0.05},{"k":"m","r":"A","c":"2","m":"EW","s":"I","x":1,"y":1.1,"e":0.05},{"k":"m","r":"A","c":"2","m":"EW","s":"I","x":2,"y":2.3,"e":0.08},{"k":"m","r":"A","c":"2","m":"EW","s":"I","x":3,"y":3.5,"e":0.1},{"k":"m","r":"A","c":"2","m":"EW","s":"I","x":4,"y":4.8,"e":0.15},{"k":"m","r":"A","c":"2","m":"EW","s":"I","x":5,"y":6,"e":0.2},{"k":"m","r":"A","c":"2","m":"EW","s":"I","x":6,"y":7.4,"e":0.25},{"k":"m","r":"A","c":"2","m":"EW","s":"I","x":7,"y":8.9,"e":0.3},{"k":"m","r":"A","c":"2","m":"EW","s":"I","x":8,"y":10.9,"e":0.35},{"k":"m","r":"A","c":"2","m":"EW","s":"I","x":9,"y":12.4,"e":0.4},{"k":"m","r":"A","c":"2","m":"EW","s":"I","x":9.7,"y":13.5,"e":0.45},
      {"k":"m","r":"A","c":"2","m":"EH","s":"I","x":0,"y":0,"e":0.05},{"k":"m","r":"A","c":"2","m":"EH","s":"I","x":1,"y":1.1,"e":0.05},{"k":"m","r":"A","c":"2","m":"EH","s":"I","x":2,"y":2.3,"e":0.08},{"k":"m","r":"A","c":"2","m":"EH","s":"I","x":3,"y":3.5,"e":0.1},{"k":"m","r":"A","c":"2","m":"EH","s":"I","x":4.2,"y":5.4,"e":0.3},{"k":"m","r":"A","c":"2","m":"EH","s":"I","x":5,"y":5.7,"e":0.5},{"k":"m","r":"A","c":"2","m":"EH","s":"I","x":5.8,"y":5.3,"e":1.2},{"k":"m","r":"A","c":"2","m":"EH","s":"I","x":6.7,"y":7.4,"e":1.6},
      {"k":"m","r":"A","c":"2","m":"PM","s":"V","x":2.7,"y":4.8,"e":0.3},{"k":"m","r":"A","c":"2","m":"PM","s":"V","x":4,"y":5.6,"e":0.3},{"k":"m","r":"A","c":"2","m":"PM","s":"V","x":5,"y":6.2,"e":0.35},{"k":"m","r":"A","c":"2","m":"PM","s":"V","x":6,"y":6.8,"e":0.35},{"k":"m","r":"A","c":"2","m":"PM","s":"V","x":7,"y":7.4,"e":0.4},{"k":"m","r":"A","c":"2","m":"PM","s":"V","x":8,"y":8,"e":0.4},{"k":"m","r":"A","c":"2","m":"PM","s":"V","x":9.7,"y":8.9,"e":0.45},
      {"k":"m","r":"A","c":"2","m":"PO","s":"V","x":2.7,"y":5.8,"e":0.5},{"k":"m","r":"A","c":"2","m":"PO","s":"V","x":4,"y":6.8,"e":0.5},{"k":"m","r":"A","c":"2","m":"PO","s":"V","x":5,"y":7.7,"e":0.6},{"k":"m","r":"A","c":"2","m":"PO","s":"V","x":6,"y":8.7,"e":0.6},{"k":"m","r":"A","c":"2","m":"PO","s":"V","x":7,"y":9.7,"e":0.7},{"k":"m","r":"A","c":"2","m":"PO","s":"V","x":8,"y":10.8,"e":0.8},{"k":"m","r":"A","c":"2","m":"PO","s":"V","x":9,"y":12.8,"e":0.9},{"k":"m","r":"A","c":"2","m":"PO","s":"V","x":9.7,"y":14,"e":1},
      {"k":"m","r":"A","c":"2","m":"EW","s":"V","x":2.7,"y":9.5,"e":1.8},{"k":"m","r":"A","c":"2","m":"EW","s":"V","x":3.3,"y":9.3,"e":1.8},{"k":"m","r":"A","c":"2","m":"EW","s":"V","x":4.2,"y":14,"e":1.8},{"k":"m","r":"A","c":"2","m":"EW","s":"V","x":5.2,"y":15,"e":1.8},{"k":"m","r":"A","c":"2","m":"EW","s":"V","x":6.3,"y":13.6,"e":1.8},{"k":"m","r":"A","c":"2","m":"EW","s":"V","x":7,"y":15.3,"e":1.8},{"k":"m","r":"A","c":"2","m":"EW","s":"V","x":8.1,"y":16,"e":1.8},{"k":"m","r":"A","c":"2","m":"EW","s":"V","x":9,"y":14.9,"e":1.8},{"k":"m","r":"A","c":"2","m":"EW","s":"V","x":9.7,"y":15,"e":1.8},

      {"k":"m","r":"A","c":"3","m":"PM","s":"I","x":0,"y":0,"e":0.05},{"k":"m","r":"A","c":"3","m":"PM","s":"I","x":1,"y":1.05,"e":0.05},{"k":"m","r":"A","c":"3","m":"PM","s":"I","x":2,"y":2.2,"e":0.08},{"k":"m","r":"A","c":"3","m":"PM","s":"I","x":3,"y":3.5,"e":0.1},{"k":"m","r":"A","c":"3","m":"PM","s":"I","x":4,"y":5.4,"e":0.15},{"k":"m","r":"A","c":"3","m":"PM","s":"I","x":5,"y":7,"e":0.2},{"k":"m","r":"A","c":"3","m":"PM","s":"I","x":6,"y":8.8,"e":0.25},{"k":"m","r":"A","c":"3","m":"PM","s":"I","x":7,"y":10.6,"e":0.3},{"k":"m","r":"A","c":"3","m":"PM","s":"I","x":8,"y":12.8,"e":0.35},{"k":"m","r":"A","c":"3","m":"PM","s":"I","x":9,"y":16,"e":0.5},{"k":"m","r":"A","c":"3","m":"PM","s":"I","x":9.7,"y":19.3,"e":0.7},
      {"k":"m","r":"A","c":"3","m":"PO","s":"I","x":0,"y":0,"e":0.05},{"k":"m","r":"A","c":"3","m":"PO","s":"I","x":1,"y":1.05,"e":0.05},{"k":"m","r":"A","c":"3","m":"PO","s":"I","x":2,"y":2.2,"e":0.08},{"k":"m","r":"A","c":"3","m":"PO","s":"I","x":3,"y":3.6,"e":0.1},{"k":"m","r":"A","c":"3","m":"PO","s":"I","x":4,"y":5.8,"e":0.2},{"k":"m","r":"A","c":"3","m":"PO","s":"I","x":5,"y":7.8,"e":0.3},{"k":"m","r":"A","c":"3","m":"PO","s":"I","x":6,"y":10.5,"e":0.4},{"k":"m","r":"A","c":"3","m":"PO","s":"I","x":7,"y":14,"e":0.6},{"k":"m","r":"A","c":"3","m":"PO","s":"I","x":8,"y":18.5,"e":0.9},{"k":"m","r":"A","c":"3","m":"PO","s":"I","x":8.7,"y":22,"e":1.3},{"k":"m","r":"A","c":"3","m":"PO","s":"I","x":9.2,"y":27,"e":1.8},{"k":"m","r":"A","c":"3","m":"PO","s":"I","x":9.7,"y":33.5,"e":2.2},
      {"k":"m","r":"A","c":"3","m":"EW","s":"I","x":0,"y":0,"e":0.05},{"k":"m","r":"A","c":"3","m":"EW","s":"I","x":1,"y":1.05,"e":0.05},{"k":"m","r":"A","c":"3","m":"EW","s":"I","x":2,"y":2.2,"e":0.08},{"k":"m","r":"A","c":"3","m":"EW","s":"I","x":3,"y":3.5,"e":0.1},{"k":"m","r":"A","c":"3","m":"EW","s":"I","x":4,"y":5.5,"e":0.2},{"k":"m","r":"A","c":"3","m":"EW","s":"I","x":5,"y":7,"e":0.3},{"k":"m","r":"A","c":"3","m":"EW","s":"I","x":5.8,"y":8.2,"e":0.4},{"k":"m","r":"A","c":"3","m":"EW","s":"I","x":6.5,"y":9,"e":0.5},{"k":"m","r":"A","c":"3","m":"EW","s":"I","x":6.9,"y":9,"e":0.6},{"k":"m","r":"A","c":"3","m":"EW","s":"I","x":7.8,"y":12.7,"e":0.8},{"k":"m","r":"A","c":"3","m":"EW","s":"I","x":8.8,"y":15,"e":1.2},{"k":"m","r":"A","c":"3","m":"EW","s":"I","x":9.7,"y":15.8,"e":1.5},
      {"k":"m","r":"A","c":"3","m":"EH","s":"I","x":0,"y":0,"e":0.05},{"k":"m","r":"A","c":"3","m":"EH","s":"I","x":1,"y":1.05,"e":0.05},{"k":"m","r":"A","c":"3","m":"EH","s":"I","x":2,"y":2.2,"e":0.08},{"k":"m","r":"A","c":"3","m":"EH","s":"I","x":3,"y":3.5,"e":0.1},{"k":"m","r":"A","c":"3","m":"EH","s":"I","x":4,"y":5.4,"e":0.3},{"k":"m","r":"A","c":"3","m":"EH","s":"I","x":5,"y":8,"e":1},{"k":"m","r":"A","c":"3","m":"EH","s":"I","x":5.7,"y":10.3,"e":2},{"k":"m","r":"A","c":"3","m":"EH","s":"I","x":6.6,"y":7.6,"e":2.4},
      {"k":"m","r":"A","c":"3","m":"PM","s":"V","x":2.7,"y":5.8,"e":0.4},{"k":"m","r":"A","c":"3","m":"PM","s":"V","x":4,"y":6.5,"e":0.5},{"k":"m","r":"A","c":"3","m":"PM","s":"V","x":5,"y":7.5,"e":0.6},{"k":"m","r":"A","c":"3","m":"PM","s":"V","x":6,"y":9,"e":0.7},{"k":"m","r":"A","c":"3","m":"PM","s":"V","x":7,"y":11,"e":0.8},{"k":"m","r":"A","c":"3","m":"PM","s":"V","x":8,"y":13.5,"e":0.9},{"k":"m","r":"A","c":"3","m":"PM","s":"V","x":9,"y":17,"e":1},{"k":"m","r":"A","c":"3","m":"PM","s":"V","x":9.7,"y":20.5,"e":1.1},
      {"k":"m","r":"A","c":"3","m":"PO","s":"V","x":2.7,"y":6.3,"e":0.6},{"k":"m","r":"A","c":"3","m":"PO","s":"V","x":4,"y":6.9,"e":0.7},{"k":"m","r":"A","c":"3","m":"PO","s":"V","x":5,"y":7.4,"e":0.9},{"k":"m","r":"A","c":"3","m":"PO","s":"V","x":5.5,"y":9,"e":1.2},{"k":"m","r":"A","c":"3","m":"PO","s":"V","x":6,"y":11,"e":1.5},{"k":"m","r":"A","c":"3","m":"PO","s":"V","x":6.7,"y":13.5,"e":1.8},{"k":"m","r":"A","c":"3","m":"PO","s":"V","x":7.5,"y":15,"e":2},{"k":"m","r":"A","c":"3","m":"PO","s":"V","x":8.3,"y":19,"e":2},{"k":"m","r":"A","c":"3","m":"PO","s":"V","x":9,"y":22,"e":2},{"k":"m","r":"A","c":"3","m":"PO","s":"V","x":9.7,"y":25,"e":2},
      {"k":"m","r":"A","c":"3","m":"EW","s":"V","x":2.7,"y":6.4,"e":0.8},{"k":"m","r":"A","c":"3","m":"EW","s":"V","x":4,"y":7.3,"e":1},{"k":"m","r":"A","c":"3","m":"EW","s":"V","x":5,"y":8,"e":1.2},{"k":"m","r":"A","c":"3","m":"EW","s":"V","x":6,"y":9.5,"e":1.5},{"k":"m","r":"A","c":"3","m":"EW","s":"V","x":6.9,"y":13,"e":1.8},{"k":"m","r":"A","c":"3","m":"EW","s":"V","x":7.6,"y":16,"e":2},{"k":"m","r":"A","c":"3","m":"EW","s":"V","x":8.2,"y":19.3,"e":2},{"k":"m","r":"A","c":"3","m":"EW","s":"V","x":8.8,"y":18.5,"e":2},{"k":"m","r":"A","c":"3","m":"EW","s":"V","x":9.7,"y":16.8,"e":2},

      {"k":"r","r":"T","c":"1","x":0,"y":0},{"k":"r","r":"T","c":"1","x":9.7,"y":9.1},{"k":"r","r":"T","c":"2","x":0,"y":0},{"k":"r","r":"T","c":"2","x":9.7,"y":9.1},{"k":"r","r":"T","c":"3","x":0,"y":0},{"k":"r","r":"T","c":"3","x":9.7,"y":9.1},
      {"k":"r","r":"S","c":"1","x":0,"y":0},{"k":"r","r":"S","c":"1","x":9.7,"y":9.1},{"k":"r","r":"S","c":"2","x":0,"y":0},{"k":"r","r":"S","c":"2","x":9.7,"y":9.1},{"k":"r","r":"S","c":"3","x":0,"y":0},{"k":"r","r":"S","c":"3","x":9.7,"y":9.1},
      {"k":"r","r":"A","c":"1","x":0,"y":0},{"k":"r","r":"A","c":"1","x":9.7,"y":9.1},{"k":"r","r":"A","c":"2","x":0,"y":0},{"k":"r","r":"A","c":"2","x":9.7,"y":9.1},{"k":"r","r":"A","c":"3","x":0,"y":0},{"k":"r","r":"A","c":"3","x":9.7,"y":9.1},

      {"k":"p","r":"T","c":"1","s":"I","x":0.52,"y":0.57,"lo":0.47,"hi":0.67},{"k":"p","r":"T","c":"1","s":"I","x":1.48,"y":1.62,"lo":1.5,"hi":1.74},{"k":"p","r":"T","c":"1","s":"I","x":2.21,"y":2.46,"lo":2.3,"hi":2.6},{"k":"p","r":"T","c":"1","s":"I","x":2.9,"y":3.64,"lo":3.45,"hi":3.8},{"k":"p","r":"T","c":"1","s":"I","x":3.58,"y":4.21,"lo":4,"hi":4.4},{"k":"p","r":"T","c":"1","s":"I","x":4.27,"y":5.05,"lo":4.8,"hi":5.3},
      {"k":"p","r":"T","c":"1","s":"V","x":4.47,"y":6.67,"lo":5.8,"hi":7.6,"slo":6.1,"shi":7.2,"xlo":4.33,"xhi":4.61},{"k":"p","r":"T","c":"1","s":"V","x":5.06,"y":9.26,"lo":8.4,"hi":10.1,"slo":8.7,"shi":9.8,"xlo":4.92,"xhi":5.2},{"k":"p","r":"T","c":"1","s":"V","x":5.76,"y":9.62,"lo":8.7,"hi":10.5,"slo":9,"shi":10.2,"xlo":5.62,"xhi":5.9},{"k":"p","r":"T","c":"1","s":"V","x":6.76,"y":10.74,"lo":9.9,"hi":11.6,"slo":10.2,"shi":11.3,"xlo":6.62,"xhi":6.9},{"k":"p","r":"T","c":"1","s":"V","x":7.9,"y":11.1,"lo":9.2,"hi":13.1,"slo":9.5,"shi":12.7,"xlo":7.68,"xhi":8.12},
      {"k":"p","r":"T","c":"2","s":"I","x":0.49,"y":0.45,"lo":0.35,"hi":0.55},{"k":"p","r":"T","c":"2","s":"I","x":1.41,"y":1.3,"lo":1.18,"hi":1.42},{"k":"p","r":"T","c":"2","s":"I","x":2.14,"y":2.6,"lo":2.45,"hi":2.75},{"k":"p","r":"T","c":"2","s":"I","x":2.83,"y":4.1,"lo":3.9,"hi":4.3},{"k":"p","r":"T","c":"2","s":"I","x":3.52,"y":4.9,"lo":4.65,"hi":5.15},{"k":"p","r":"T","c":"2","s":"I","x":4.19,"y":6.7,"lo":6.4,"hi":7},
      {"k":"p","r":"T","c":"2","s":"V","x":4.41,"y":7.16,"lo":6.3,"hi":8,"slo":6.6,"shi":7.7,"xlo":4.27,"xhi":4.55},{"k":"p","r":"T","c":"2","s":"V","x":5,"y":10.1,"lo":9.1,"hi":11.1,"slo":9.5,"shi":10.7,"xlo":4.86,"xhi":5.14},{"k":"p","r":"T","c":"2","s":"V","x":5.72,"y":12.06,"lo":11,"hi":13.1,"slo":11.4,"shi":12.7,"xlo":5.58,"xhi":5.86},{"k":"p","r":"T","c":"2","s":"V","x":6.72,"y":16.5,"lo":15.3,"hi":17.7,"slo":15.8,"shi":17.2,"xlo":6.58,"xhi":6.86},{"k":"p","r":"T","c":"2","s":"V","x":7.8,"y":19.1,"lo":16.5,"hi":21.7,"slo":17.9,"shi":20.2,"xlo":7.64,"xhi":7.96},{"k":"p","r":"T","c":"2","s":"V","x":9.27,"y":24.8,"lo":18.6,"hi":30.5,"slo":22.3,"shi":27,"xlo":8.98,"xhi":9.56},
      {"k":"p","r":"T","c":"3","s":"I","x":0.52,"y":0.45,"lo":0.35,"hi":0.55},{"k":"p","r":"T","c":"3","s":"I","x":1.44,"y":1.2,"lo":1.05,"hi":1.35},{"k":"p","r":"T","c":"3","s":"I","x":2.17,"y":2.5,"lo":2.3,"hi":2.7},{"k":"p","r":"T","c":"3","s":"I","x":2.86,"y":4.6,"lo":4.3,"hi":4.9},{"k":"p","r":"T","c":"3","s":"I","x":3.54,"y":6.4,"lo":6,"hi":6.8},{"k":"p","r":"T","c":"3","s":"I","x":4.23,"y":6.9,"lo":5.7,"hi":8.1},{"k":"p","r":"T","c":"3","s":"I","x":4.99,"y":12.8,"lo":11.3,"hi":14.3},
      {"k":"p","r":"T","c":"3","s":"V","x":5.03,"y":10.6,"lo":8.9,"hi":13.8,"slo":9.1,"shi":12.1,"xlo":4.92,"xhi":5.14},{"k":"p","r":"T","c":"3","s":"V","x":5.72,"y":15,"lo":12.3,"hi":17.6,"slo":13.8,"shi":16.1,"xlo":5.61,"xhi":5.83},{"k":"p","r":"T","c":"3","s":"V","x":6.72,"y":11.7,"lo":8.5,"hi":13.8,"slo":10.6,"shi":12.7,"xlo":6.61,"xhi":6.83},{"k":"p","r":"T","c":"3","s":"V","x":7.87,"y":27.7,"lo":20.3,"hi":34.8,"slo":23.2,"shi":32,"xlo":7.68,"xhi":8.06},

      {"k":"p","r":"S","c":"1","s":"I","x":0.52,"y":0.43,"lo":0.33,"hi":0.53},{"k":"p","r":"S","c":"1","s":"I","x":1.48,"y":1.48,"lo":1.36,"hi":1.6},{"k":"p","r":"S","c":"1","s":"I","x":2.21,"y":2.34,"lo":2.2,"hi":2.48},{"k":"p","r":"S","c":"1","s":"I","x":2.9,"y":3.16,"lo":3,"hi":3.32},{"k":"p","r":"S","c":"1","s":"I","x":3.58,"y":3.44,"lo":3.25,"hi":3.63},{"k":"p","r":"S","c":"1","s":"I","x":4.26,"y":3.77,"lo":3.55,"hi":3.99},
      {"k":"p","r":"S","c":"1","s":"V","x":4.43,"y":7.26,"lo":6.5,"hi":8,"slo":6.8,"shi":7.7,"xlo":4.29,"xhi":4.57},{"k":"p","r":"S","c":"1","s":"V","x":5.03,"y":8.03,"lo":7.3,"hi":8.8,"slo":7.6,"shi":8.5,"xlo":4.89,"xhi":5.17},{"k":"p","r":"S","c":"1","s":"V","x":5.72,"y":9,"lo":8.2,"hi":9.8,"slo":8.5,"shi":9.5,"xlo":5.58,"xhi":5.86},{"k":"p","r":"S","c":"1","s":"V","x":6.72,"y":9.56,"lo":8.7,"hi":10.4,"slo":9,"shi":10.1,"xlo":6.58,"xhi":6.86},
      {"k":"p","r":"S","c":"2","s":"I","x":0.49,"y":0.45,"lo":0.35,"hi":0.55},{"k":"p","r":"S","c":"2","s":"I","x":1.41,"y":1.45,"lo":1.33,"hi":1.57},{"k":"p","r":"S","c":"2","s":"I","x":2.14,"y":2.35,"lo":2.2,"hi":2.5},{"k":"p","r":"S","c":"2","s":"I","x":2.83,"y":3.45,"lo":3.28,"hi":3.62},{"k":"p","r":"S","c":"2","s":"I","x":3.52,"y":4.2,"lo":4,"hi":4.4},{"k":"p","r":"S","c":"2","s":"I","x":4.19,"y":4.5,"lo":4.25,"hi":4.75},
      {"k":"p","r":"S","c":"2","s":"V","x":4.42,"y":9.2,"lo":8.4,"hi":10,"slo":8.7,"shi":9.7,"xlo":4.28,"xhi":4.56},{"k":"p","r":"S","c":"2","s":"V","x":5,"y":9.9,"lo":9.1,"hi":10.7,"slo":9.4,"shi":10.4,"xlo":4.86,"xhi":5.14},{"k":"p","r":"S","c":"2","s":"V","x":5.71,"y":10.1,"lo":9.3,"hi":10.9,"slo":9.6,"shi":10.6,"xlo":5.57,"xhi":5.85},{"k":"p","r":"S","c":"2","s":"V","x":6.69,"y":9.5,"lo":8.7,"hi":10.3,"slo":9,"shi":10,"xlo":6.55,"xhi":6.83},{"k":"p","r":"S","c":"2","s":"V","x":7.8,"y":11.5,"lo":9.9,"hi":13.1,"slo":10.6,"shi":12.4,"xlo":7.64,"xhi":7.96},
      {"k":"p","r":"S","c":"3","s":"I","x":0.52,"y":0.4,"lo":0.3,"hi":0.5},{"k":"p","r":"S","c":"3","s":"I","x":1.44,"y":1.2,"lo":1.08,"hi":1.32},{"k":"p","r":"S","c":"3","s":"I","x":2.17,"y":2.5,"lo":2.3,"hi":2.7},{"k":"p","r":"S","c":"3","s":"I","x":2.86,"y":3.4,"lo":3.15,"hi":3.65},{"k":"p","r":"S","c":"3","s":"I","x":3.54,"y":3.9,"lo":3.6,"hi":4.2},{"k":"p","r":"S","c":"3","s":"I","x":4.23,"y":3,"lo":2.4,"hi":3.6},{"k":"p","r":"S","c":"3","s":"I","x":4.99,"y":3.2,"lo":2.5,"hi":3.9},
      {"k":"p","r":"S","c":"3","s":"V","x":5,"y":10.8,"lo":8.7,"hi":12.8,"slo":9.8,"shi":11.7,"xlo":4.89,"xhi":5.11},{"k":"p","r":"S","c":"3","s":"V","x":5.68,"y":9.7,"lo":7.9,"hi":11.5,"slo":7.9,"shi":11.5,"xlo":5.57,"xhi":5.79},{"k":"p","r":"S","c":"3","s":"V","x":6.64,"y":11.2,"lo":9,"hi":13.4,"slo":9,"shi":13.4,"xlo":6.53,"xhi":6.75},{"k":"p","r":"S","c":"3","s":"V","x":7.85,"y":9.7,"lo":5.3,"hi":13.9,"slo":7.6,"shi":11.7,"xlo":7.68,"xhi":8.02},

      {"k":"p","r":"A","c":"1","s":"I","x":0.52,"y":0.55,"lo":0.45,"hi":0.65},{"k":"p","r":"A","c":"1","s":"I","x":1.48,"y":1.61,"lo":1.49,"hi":1.73},{"k":"p","r":"A","c":"1","s":"I","x":2.21,"y":2.33,"lo":2.2,"hi":2.46},{"k":"p","r":"A","c":"1","s":"I","x":2.9,"y":3.02,"lo":2.86,"hi":3.18},{"k":"p","r":"A","c":"1","s":"I","x":3.58,"y":3.17,"lo":2.98,"hi":3.36},{"k":"p","r":"A","c":"1","s":"I","x":4.27,"y":3.51,"lo":3.28,"hi":3.74},
      {"k":"p","r":"A","c":"1","s":"V","x":4.43,"y":6.55,"lo":5.6,"hi":7.5,"slo":5.9,"shi":7.2,"xlo":4.29,"xhi":4.57},{"k":"p","r":"A","c":"1","s":"V","x":5.06,"y":7.95,"lo":7,"hi":8.9,"slo":7.3,"shi":8.6,"xlo":4.92,"xhi":5.2},{"k":"p","r":"A","c":"1","s":"V","x":5.76,"y":8.45,"lo":7.5,"hi":9.4,"slo":7.8,"shi":9.1,"xlo":5.62,"xhi":5.9},{"k":"p","r":"A","c":"1","s":"V","x":6.76,"y":9.2,"lo":8.3,"hi":10.1,"slo":8.6,"shi":9.8,"xlo":6.62,"xhi":6.9},{"k":"p","r":"A","c":"1","s":"V","x":7.93,"y":12.9,"lo":10.8,"hi":15,"slo":11.5,"shi":14.3,"xlo":7.71,"xhi":8.15},
      {"k":"p","r":"A","c":"2","s":"I","x":0.49,"y":0.45,"lo":0.35,"hi":0.55},{"k":"p","r":"A","c":"2","s":"I","x":1.41,"y":1.35,"lo":1.23,"hi":1.47},{"k":"p","r":"A","c":"2","s":"I","x":2.14,"y":2.45,"lo":2.3,"hi":2.6},{"k":"p","r":"A","c":"2","s":"I","x":2.83,"y":3.45,"lo":3.28,"hi":3.62},{"k":"p","r":"A","c":"2","s":"I","x":3.52,"y":4.3,"lo":4.1,"hi":4.5},{"k":"p","r":"A","c":"2","s":"I","x":4.19,"y":6.1,"lo":5.8,"hi":6.4},
      {"k":"p","r":"A","c":"2","s":"V","x":4.41,"y":8.5,"lo":7.6,"hi":9.4,"slo":7.9,"shi":9.1,"xlo":4.27,"xhi":4.55},{"k":"p","r":"A","c":"2","s":"V","x":5,"y":9,"lo":8.1,"hi":9.9,"slo":8.4,"shi":9.6,"xlo":4.86,"xhi":5.14},{"k":"p","r":"A","c":"2","s":"V","x":5.72,"y":10.5,"lo":9.5,"hi":11.5,"slo":9.9,"shi":11.1,"xlo":5.58,"xhi":5.86},{"k":"p","r":"A","c":"2","s":"V","x":6.72,"y":13,"lo":12,"hi":14,"slo":12.4,"shi":13.6,"xlo":6.58,"xhi":6.86},{"k":"p","r":"A","c":"2","s":"V","x":7.88,"y":13.3,"lo":11,"hi":15.6,"slo":11.9,"shi":14.7,"xlo":7.72,"xhi":8.04},{"k":"p","r":"A","c":"2","s":"V","x":9.27,"y":20.1,"lo":15.3,"hi":24.9,"slo":18.4,"shi":22.4,"xlo":8.98,"xhi":9.56},
      {"k":"p","r":"A","c":"3","s":"I","x":0.52,"y":0.45,"lo":0.35,"hi":0.55},{"k":"p","r":"A","c":"3","s":"I","x":1.44,"y":1.35,"lo":1.2,"hi":1.5},{"k":"p","r":"A","c":"3","s":"I","x":2.17,"y":2.4,"lo":2.2,"hi":2.6},{"k":"p","r":"A","c":"3","s":"I","x":2.86,"y":3.6,"lo":3.35,"hi":3.85},{"k":"p","r":"A","c":"3","s":"I","x":3.54,"y":5.4,"lo":5.05,"hi":5.75},{"k":"p","r":"A","c":"3","s":"I","x":4.23,"y":6.1,"lo":5.1,"hi":7.1},{"k":"p","r":"A","c":"3","s":"I","x":4.99,"y":8.4,"lo":7,"hi":9.8},
      {"k":"p","r":"A","c":"3","s":"V","x":5,"y":9,"lo":7.25,"hi":11.1,"slo":7.95,"shi":10.4,"xlo":4.89,"xhi":5.11},{"k":"p","r":"A","c":"3","s":"V","x":5.72,"y":11.1,"lo":8.7,"hi":13.2,"slo":9.7,"shi":12.2,"xlo":5.61,"xhi":5.83},{"k":"p","r":"A","c":"3","s":"V","x":6.72,"y":11.6,"lo":8.7,"hi":14.2,"slo":10.4,"shi":12.8,"xlo":6.61,"xhi":6.83},{"k":"p","r":"A","c":"3","s":"V","x":7.87,"y":25.2,"lo":18.2,"hi":31.9,"slo":22.4,"shi":28,"xlo":7.68,"xhi":8.06},

      {"k":"t","r":"T","c":"1","g":"big","x":0.55,"y":32.6,"text":"ALICE pp √s = 13 TeV"},
      {"k":"t","r":"T","c":"1","g":"mid","x":0.5,"y":29.1,"text":"J/ψ → e⁺e⁻, |y| < 0.9"},
      {"k":"t","r":"T","c":"1","g":"mid","x":0.5,"y":26.8,"text":"Prompt J/ψ, 1 < pT < 4 GeV/c"},
      {"k":"t","r":"T","c":"1","g":"nch","x":0.5,"y":24.4,"text":"Toward N"},
      {"k":"t","r":"T","c":"1","g":"small","x":0.5,"y":18.9,"text":"Models full: INEL>0"},
      {"k":"t","r":"T","c":"1","g":"small","x":0.5,"y":16.8,"text":"Models hashed: V0M 0-0.1%"},
      {"k":"t","r":"T","c":"2","g":"mid","x":0.5,"y":32.6,"text":"Prompt J/ψ, 4 < pT < 8 GeV/c"},
      {"k":"t","r":"T","c":"2","g":"nch","x":0.5,"y":30,"text":"Toward N"},
      {"k":"t","r":"T","c":"3","g":"mid","x":0.5,"y":32.6,"text":"Prompt J/ψ, pT > 8 GeV/c"},
      {"k":"t","r":"T","c":"3","g":"nch","x":0.5,"y":30,"text":"Toward N"},
      {"k":"t","r":"S","c":"1","g":"mid","x":0.5,"y":23.9,"text":"Prompt J/ψ, 1 < pT < 4 GeV/c"},
      {"k":"t","r":"S","c":"1","g":"nch","x":0.5,"y":21.9,"text":"Transverse N"},
      {"k":"t","r":"S","c":"2","g":"mid","x":0.5,"y":23.9,"text":"Prompt J/ψ, 4 < pT < 8 GeV/c"},
      {"k":"t","r":"S","c":"2","g":"nch","x":0.5,"y":21.9,"text":"Transverse N"},
      {"k":"t","r":"S","c":"3","g":"mid","x":0.5,"y":23.9,"text":"Prompt J/ψ, pT > 8 GeV/c"},
      {"k":"t","r":"S","c":"3","g":"nch","x":0.5,"y":21.9,"text":"Transverse N"},
      {"k":"t","r":"A","c":"1","g":"mid","x":0.5,"y":30,"text":"Prompt J/ψ, 1 < pT < 4 GeV/c"},
      {"k":"t","r":"A","c":"1","g":"nch","x":0.5,"y":27.2,"text":"Away N"},
      {"k":"t","r":"A","c":"2","g":"mid","x":0.5,"y":30,"text":"Prompt J/ψ, 4 < pT < 8 GeV/c"},
      {"k":"t","r":"A","c":"2","g":"nch","x":0.5,"y":27.2,"text":"Away N"},
      {"k":"t","r":"A","c":"3","g":"mid","x":0.5,"y":30,"text":"Prompt J/ψ, pT > 8 GeV/c"},
      {"k":"t","r":"A","c":"3","g":"nch","x":0.5,"y":27.2,"text":"Away N"}
    ]
  },
  "vconcat": [
    {
      "data": {"name": "d"},
      "transform": [{"filter": "datum.r == 'T'"}],
      "facet": {"column": {"field": "c", "type": "nominal", "header": null}},
      "spacing": 0,
      "bounds": "flush",
      "spec": {
        "width": 200,
        "height": 168,
        "encoding": {
          "x": {"field": "x", "type": "quantitative", "scale": {"domain": [0, 9.7], "nice": false, "zero": false}, "axis": {"values": [0,1,2,3,4,5,6,7,8,9], "labels": false, "title": null}},
          "y": {"field": "y", "type": "quantitative", "scale": {"domain": [-0.8, 34.8], "nice": false, "zero": false}, "axis": {"values": [0,5,10,15,20,25,30], "title": "NJ/ψ / ⟨NJ/ψ⟩INEL>0"}}
        },
        "layer": [
          {"transform": [{"filter": "datum.k == 'm' && datum.s == 'V'"}], "mark": {"type": "errorband", "opacity": 0.3, "clip": true}, "encoding": {"yError": {"field": "e"}, "color": {"field": "m", "type": "nominal"}}},
          {"transform": [{"filter": "datum.k == 'm' && datum.s == 'I'"}], "mark": {"type": "errorband", "opacity": 0.55, "clip": true}, "encoding": {"yError": {"field": "e"}, "color": {"field": "m", "type": "nominal", "scale": {"domain": ["PM","PO","EW","EH"], "range": ["#2e8b2e","#e020e0","#d9a21b","#30d0d0"]}, "legend": {"title": null, "orient": "none", "legendX": 206, "legendY": 30, "labelExpr": "{'PM':'PYTHIA Monash','PO':'PYTHIA Monash, oniaShower:all','EW':'EPOS4HQ w/o hydro','EH':'EPOS4HQ with hydro'}[datum.label]", "labelFontSize": 9.5, "symbolType": "M-2,-0.8H2V0.8H-2Z", "symbolSize": 64, "symbolOpacity": 0.9, "symbolStrokeColor": "#444444", "symbolStrokeWidth": 0.8, "rowPadding": 1, "labelOffset": 3}}}},
          {"transform": [{"filter": "datum.k == 'm'"}], "mark": {"type": "line", "strokeWidth": 2, "clip": true}, "encoding": {"color": {"field": "m", "type": "nominal"}, "strokeDash": {"field": "s", "type": "nominal", "scale": {"domain": ["I","V"], "range": [[1,0],[2,2]]}, "legend": null}}},
          {"transform": [{"filter": "datum.k == 'r'"}], "mark": {"type": "line", "color": "#808080", "strokeDash": [5,3], "strokeWidth": 1.8}, "encoding": {}},
          {"transform": [{"filter": "datum.k == 'p' && datum.s == 'V'"}], "mark": {"type": "rect", "filled": false, "color": "#1515c8", "strokeWidth": 1.5}, "encoding": {"x": {"field": "xlo", "type": "quantitative"}, "x2": {"field": "xhi"}, "y": {"field": "slo", "type": "quantitative"}, "y2": {"field": "shi"}}},
          {"transform": [{"filter": "datum.k == 'p' && datum.s == 'I'"}], "mark": {"type": "rule", "strokeWidth": 2, "color": "black"}, "encoding": {"y": {"field": "lo", "type": "quantitative"}, "y2": {"field": "hi"}}},
          {"transform": [{"filter": "datum.k == 'p' && datum.s == 'V'"}], "mark": {"type": "rule", "strokeWidth": 2, "color": "#1515c8"}, "encoding": {"y": {"field": "lo", "type": "quantitative"}, "y2": {"field": "hi"}}},
          {"transform": [{"filter": "datum.k == 'p'"}], "mark": {"type": "point", "strokeWidth": 2, "opacity": 1},
           "encoding": {
             "shape": {"field": "s", "type": "nominal", "scale": {"domain": ["I","V"], "range": ["circle","M0,-1.2L0.85,0L0,1.2L-0.85,0Z"]}, "legend": {"title": null, "orient": "none", "legendX": 10, "legendY": 57, "direction": "horizontal", "labelExpr": "datum.label == 'I' ? 'INEL>0' : 'V0M 0-0.1%'", "labelFontSize": 9, "symbolSize": 60, "columnPadding": 32}},
             "fill": {"field": "s", "type": "nominal", "scale": {"domain": ["I","V"], "range": ["black","white"]}, "legend": {"title": null, "orient": "none", "legendX": 10, "legendY": 57, "direction": "horizontal", "labelExpr": "datum.label == 'I' ? 'INEL>0' : 'V0M 0-0.1%'", "labelFontSize": 9, "symbolSize": 60, "columnPadding": 32}},
             "stroke": {"field": "s", "type": "nominal", "scale": {"domain": ["I","V"], "range": ["black","#1515c8"]}, "legend": {"title": null, "orient": "none", "legendX": 10, "legendY": 57, "direction": "horizontal", "labelExpr": "datum.label == 'I' ? 'INEL>0' : 'V0M 0-0.1%'", "labelFontSize": 9, "symbolSize": 60, "columnPadding": 32}},
             "size": {"field": "s", "type": "nominal", "scale": {"domain": ["I","V"], "range": [50, 65]}, "legend": null}
           }},
          {"transform": [{"filter": "datum.k == 't' && datum.g == 'big'"}], "mark": {"type": "text", "fontSize": 13.5}, "encoding": {"text": {"field": "text", "type": "nominal"}}},
          {"transform": [{"filter": "datum.k == 't' && (datum.g == 'mid' || datum.g == 'nch')"}], "mark": {"type": "text", "fontSize": 10.5}, "encoding": {"text": {"field": "text", "type": "nominal"}}},
          {"transform": [{"filter": "datum.k == 't' && datum.g == 'nch'"}], "mark": {"type": "text", "fontSize": 7.5, "text": "ch", "dx": 47, "dy": 3}, "encoding": {}},
          {"transform": [{"filter": "datum.k == 't' && datum.g == 'small'"}], "mark": {"type": "text", "fontSize": 8}, "encoding": {"text": {"field": "text", "type": "nominal"}}}
        ]
      }
    },
    {
      "data": {"name": "d"},
      "transform": [{"filter": "datum.r == 'S'"}],
      "facet": {"column": {"field": "c", "type": "nominal", "header": null}},
      "spacing": 0,
      "bounds": "flush",
      "spec": {
        "width": 200,
        "height": 169,
        "encoding": {
          "x": {"field": "x", "type": "quantitative", "scale": {"domain": [0, 9.7], "nice": false, "zero": false}, "axis": {"values": [0,1,2,3,4,5,6,7,8,9], "labels": false, "title": null}},
          "y": {"field": "y", "type": "quantitative", "scale": {"domain": [-0.9, 26.9], "nice": false, "zero": false}, "axis": {"values": [0,5,10,15,20,25], "title": "NJ/ψ / ⟨NJ/ψ⟩INEL>0"}}
        },
        "layer": [
          {"transform": [{"filter": "datum.k == 'm' && datum.s == 'V'"}], "mark": {"type": "errorband", "opacity": 0.3, "clip": true}, "encoding": {"yError": {"field": "e"}, "color": {"field": "m", "type": "nominal"}}},
          {"transform": [{"filter": "datum.k == 'm' && datum.s == 'I'"}], "mark": {"type": "errorband", "opacity": 0.55, "clip": true}, "encoding": {"yError": {"field": "e"}, "color": {"field": "m", "type": "nominal"}}},
          {"transform": [{"filter": "datum.k == 'm'"}], "mark": {"type": "line", "strokeWidth": 2, "clip": true}, "encoding": {"color": {"field": "m", "type": "nominal"}, "strokeDash": {"field": "s", "type": "nominal", "scale": {"domain": ["I","V"], "range": [[1,0],[2,2]]}, "legend": null}}},
          {"transform": [{"filter": "datum.k == 'r'"}], "mark": {"type": "line", "color": "#808080", "strokeDash": [5,3], "strokeWidth": 1.8}, "encoding": {}},
          {"transform": [{"filter": "datum.k == 'p' && datum.s == 'V'"}], "mark": {"type": "rect", "filled": false, "color": "#1515c8", "strokeWidth": 1.5}, "encoding": {"x": {"field": "xlo", "type": "quantitative"}, "x2": {"field": "xhi"}, "y": {"field": "slo", "type": "quantitative"}, "y2": {"field": "shi"}}},
          {"transform": [{"filter": "datum.k == 'p' && datum.s == 'I'"}], "mark": {"type": "rule", "strokeWidth": 2, "color": "black"}, "encoding": {"y": {"field": "lo", "type": "quantitative"}, "y2": {"field": "hi"}}},
          {"transform": [{"filter": "datum.k == 'p' && datum.s == 'V'"}], "mark": {"type": "rule", "strokeWidth": 2, "color": "#1515c8"}, "encoding": {"y": {"field": "lo", "type": "quantitative"}, "y2": {"field": "hi"}}},
          {"transform": [{"filter": "datum.k == 'p'"}], "mark": {"type": "point", "strokeWidth": 2, "opacity": 1},
           "encoding": {"shape": {"field": "s", "type": "nominal", "legend": null}, "fill": {"field": "s", "type": "nominal", "legend": null}, "stroke": {"field": "s", "type": "nominal", "legend": null}, "size": {"field": "s", "type": "nominal", "legend": null}}},
          {"transform": [{"filter": "datum.k == 't' && (datum.g == 'mid' || datum.g == 'nch')"}], "mark": {"type": "text", "fontSize": 10.5}, "encoding": {"text": {"field": "text", "type": "nominal"}}},
          {"transform": [{"filter": "datum.k == 't' && datum.g == 'nch'"}], "mark": {"type": "text", "fontSize": 7.5, "text": "ch", "dx": 64, "dy": 3}, "encoding": {}}
        ]
      }
    },
    {
      "data": {"name": "d"},
      "transform": [{"filter": "datum.r == 'A'"}],
      "facet": {"column": {"field": "c", "type": "nominal", "header": null}},
      "spacing": 0,
      "bounds": "flush",
      "spec": {
        "width": 200,
        "height": 169,
        "encoding": {
          "x": {"field": "x", "type": "quantitative", "scale": {"domain": [0, 9.7], "nice": false, "zero": false}, "axis": {"values": [0,1,2,3,4,5,6,7,8,9], "labelPadding": 6, "title": "Nch/⟨Nch⟩INEL>0 (region, |η| < 0.9)", "titleFontSize": 10.5, "titleAnchor": "end", "titlePadding": 3}},
          "y": {"field": "y", "type": "quantitative", "scale": {"domain": [-1, 34.8], "nice": false, "zero": false}, "axis": {"values": [0,5,10,15,20,25,30], "title": "NJ/ψ / ⟨NJ/ψ⟩INEL>0"}}
        },
        "layer": [
          {"transform": [{"filter": "datum.k == 'm' && datum.s == 'V'"}], "mark": {"type": "errorband", "opacity": 0.3, "clip": true}, "encoding": {"yError": {"field": "e"}, "color": {"field": "m", "type": "nominal"}}},
          {"transform": [{"filter": "datum.k == 'm' && datum.s == 'I'"}], "mark": {"type": "errorband", "opacity": 0.55, "clip": true}, "encoding": {"yError": {"field": "e"}, "color": {"field": "m", "type": "nominal"}}},
          {"transform": [{"filter": "datum.k == 'm'"}], "mark": {"type": "line", "strokeWidth": 2, "clip": true}, "encoding": {"color": {"field": "m", "type": "nominal"}, "strokeDash": {"field": "s", "type": "nominal", "scale": {"domain": ["I","V"], "range": [[1,0],[2,2]]}, "legend": null}}},
          {"transform": [{"filter": "datum.k == 'r'"}], "mark": {"type": "line", "color": "#808080", "strokeDash": [5,3], "strokeWidth": 1.8}, "encoding": {}},
          {"transform": [{"filter": "datum.k == 'p' && datum.s == 'V'"}], "mark": {"type": "rect", "filled": false, "color": "#1515c8", "strokeWidth": 1.5}, "encoding": {"x": {"field": "xlo", "type": "quantitative"}, "x2": {"field": "xhi"}, "y": {"field": "slo", "type": "quantitative"}, "y2": {"field": "shi"}}},
          {"transform": [{"filter": "datum.k == 'p' && datum.s == 'I'"}], "mark": {"type": "rule", "strokeWidth": 2, "color": "black"}, "encoding": {"y": {"field": "lo", "type": "quantitative"}, "y2": {"field": "hi"}}},
          {"transform": [{"filter": "datum.k == 'p' && datum.s == 'V'"}], "mark": {"type": "rule", "strokeWidth": 2, "color": "#1515c8"}, "encoding": {"y": {"field": "lo", "type": "quantitative"}, "y2": {"field": "hi"}}},
          {"transform": [{"filter": "datum.k == 'p'"}], "mark": {"type": "point", "strokeWidth": 2, "opacity": 1},
           "encoding": {"shape": {"field": "s", "type": "nominal", "legend": null}, "fill": {"field": "s", "type": "nominal", "legend": null}, "stroke": {"field": "s", "type": "nominal", "legend": null}, "size": {"field": "s", "type": "nominal", "legend": null}}},
          {"transform": [{"filter": "datum.k == 't' && (datum.g == 'mid' || datum.g == 'nch')"}], "mark": {"type": "text", "fontSize": 10.5}, "encoding": {"text": {"field": "text", "type": "nominal"}}},
          {"transform": [{"filter": "datum.k == 't' && datum.g == 'nch'"}], "mark": {"type": "text", "fontSize": 7.5, "text": "ch", "dx": 37, "dy": 3}, "encoding": {}}
        ]
      }
    }
  ]
}
